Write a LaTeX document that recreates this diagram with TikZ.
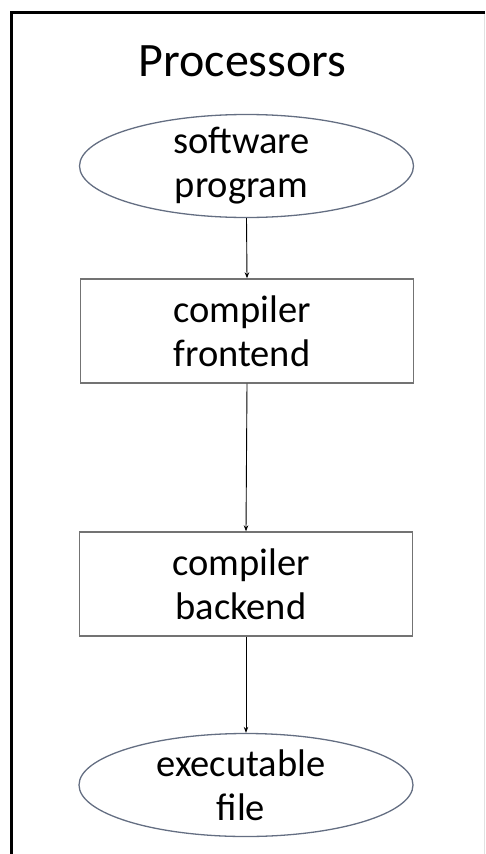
\documentclass[tikz,border=0pt]{standalone}
\usepackage{fontspec}
\setmainfont{Carlito}
\usetikzlibrary{shapes.geometric,arrows.meta}
\definecolor{boxgray}{RGB}{115,115,115}
\definecolor{ellgray}{RGB}{100,110,130}
\definecolor{faint}{RGB}{225,225,225}
\tikzset{
  txt/.style={font=\fontsize{38.5}{44}\selectfont, align=center, inner sep=0pt, xshift=-5pt},
  ellbox/.style={ellipse, draw=ellgray, line width=1.3pt, inner sep=0pt, minimum width=334pt, minimum height=103pt},
  recbox/.style={rectangle, draw=boxgray, line width=1.4pt, inner sep=0pt, minimum width=333pt, minimum height=104pt},
  flow/.style={-{Stealth[length=6pt,width=4.5pt]}, line width=0.9pt, black}
}
\begin{document}
\begin{tikzpicture}[x=1pt,y=-1pt]
\useasboundingbox (0,0) rectangle (485,854);
\draw[faint, line width=1pt] (484,12) -- (484,854);
\draw[black, line width=3pt] (11,854) -- (11,12) -- (485,12);
\node[font=\fontsize{48}{56}\selectfont, anchor=base] (title) at (242.5,76) {Processors};
\node[ellbox, label={[txt]center:software\\program}] (sw) at (246.5,166) {};
\node[recbox, label={[txt]center:compiler\\frontend}] (fe) at (247,331) {};
\node[recbox, label={[txt]center:compiler\\backend}] (be) at (246,584) {};
\node[ellbox, label={[txt]center:executable\\file}] (ex) at (246,785) {};
\draw[flow] (sw.south) -- (fe.north);
\draw[flow] (fe.south) -- (be.north);
\draw[flow] (be.south) -- (ex.north);
\end{tikzpicture}
\end{document}
